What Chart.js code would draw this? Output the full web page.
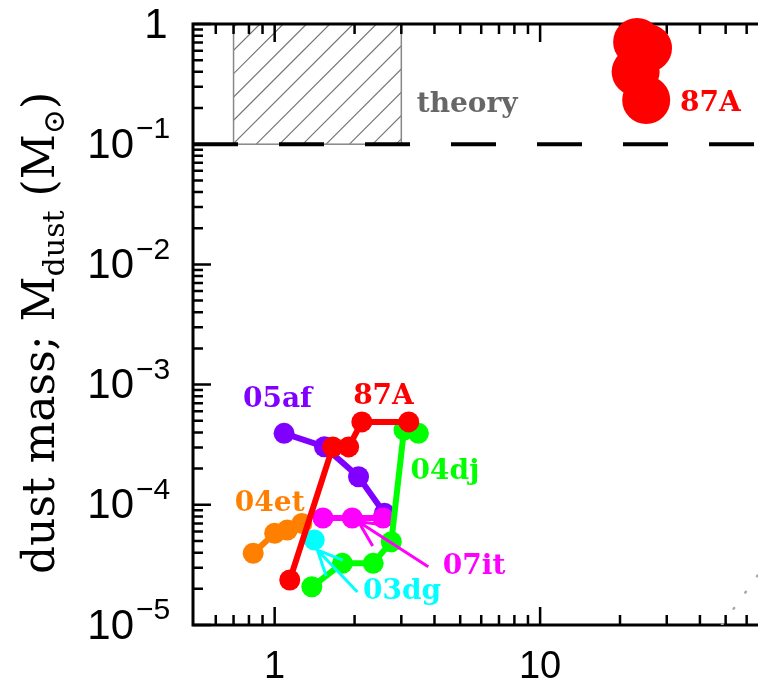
<!DOCTYPE html>
<html lang="en">
<head>
<meta charset="UTF-8">
<title>Dust mass of supernovae</title>
<script src="https://cdn.jsdelivr.net/npm/chart.js"></script>
<style>
  html, body { margin: 0; padding: 0; background: #fff; overflow: hidden; }
</style>
</head>
<body>
<canvas id="dustChart" width="782" height="678"></canvas>
<script>
// axis ranges
const xMin = 0.4924, xMax = 66.2;
const yMin = 1e-5, yMax = 1;
const xTickLabels = [1, 10];
const yTickValues = [1, 0.1, 0.01, 0.001, 1e-4, 1e-5];
const yTickExps   = ['', '\u22121', '\u22122', '\u22123', '\u22124', '\u22125'];

// dust mass measurements (x, Mdust in Msun)
const sn87aX  = [1.14, 1.655, 1.90, 2.13, 3.20];
const sn87aY  = [2.37e-5, 3.03e-4, 3.03e-4, 4.89e-4, 4.89e-4];
const sn87aLateX = [23.2, 25.5, 22.9, 25.1];
const sn87aLateY = [0.708, 0.63, 0.40, 0.233];
const sn05afX = [1.085, 1.54, 2.07, 2.59];
const sn05afY = [3.93e-4, 3.04e-4, 1.71e-4, 8.5e-5];
const sn04djX = [1.38, 1.80, 2.35, 2.75, 3.07, 3.48];
const sn04djY = [2.08e-5, 3.26e-5, 3.26e-5, 4.93e-5, 4.19e-4, 3.93e-4];
const sn04etX = [0.83, 1.0, 1.116, 1.266];
const sn04etY = [3.95e-5, 5.8e-5, 6.17e-5, 7.0e-5];
const sn07itX = [1.52, 1.96, 2.56];
const sn07itY = [7.76e-5, 7.76e-5, 7.76e-5];
const sn03dgX = [1.41];
const sn03dgY = [5.1e-5];

// pointer arrows: tail, tip, barb, tip, barb
const arrow07itX = [3.79, 2.07, 2.62, 2.07, 2.34];
const arrow07itY = [3.05e-5, 7.23e-5, 6.8e-5, 7.23e-5, 4.54e-5];
const arrow03dgX = [2.05, 1.449, 1.805, 1.449, 1.563];
const arrow03dgY = [1.88e-5, 4.2e-5, 3.47e-5, 4.2e-5, 2.56e-5];

// faint model curve entering at lower right
const modelX = [48.4, 82.4];
const modelY = [1e-5, 5.1e-5];

// theoretical prediction: box and lower limit
const theoryBoxX = [0.7, 3.0];
const theoryBoxY = [0.1, 1];
const theoryLimit = 0.1;

// text labels
const labelText  = ['05af', '87A', '04dj', '04et', '07it', '03dg', 'theory', '87A'];
const labelX     = [1.025, 2.57, 4.38, 0.958, 5.64, 3.02, 5.31, 43.8];
const labelY     = [7.45e-4, 7.88e-4, 1.87e-4, 1.03e-4, 3.04e-5, 1.88e-5, 0.212, 0.216];
const labelColor = ['#8000ff', '#ff0000', '#00ff00', '#ff8000', '#ff00ff', '#00ffff', '#666666', '#ff0000'];

function pts(xs, ys) { return xs.map((x, i) => ({ x: x, y: ys[i] })); }

function series(xs, ys, color, order) {
    return {
        data: pts(xs, ys), showLine: true, order: order,
        borderColor: color, backgroundColor: color, borderWidth: 6,
        pointRadius: 10.5, pointBorderWidth: 0, pointBackgroundColor: color
    };
}

function arrow(xs, ys, color, order) {
    return {
        data: pts(xs, ys), showLine: true, order: order,
        borderColor: color, borderWidth: 3, pointRadius: 0,
        borderJoinStyle: 'miter', borderCapStyle: 'butt'
    };
}

// axes frame, inward ticks and theory box drawn under the data
const frame = {
    id: 'frame',
    beforeDatasetsDraw(chart) {
        const ctx = chart.ctx, a = chart.chartArea;
        const xs = chart.scales.x, ys = chart.scales.y;
        ctx.save();

        // hatched theory region
        const bx0 = xs.getPixelForValue(theoryBoxX[0]), bx1 = xs.getPixelForValue(theoryBoxX[1]);
        const by0 = ys.getPixelForValue(theoryBoxY[1]), by1 = ys.getPixelForValue(theoryBoxY[0]);
        ctx.save();
        ctx.beginPath();
        ctx.rect(bx0, by0, bx1 - bx0, by1 - by0);
        ctx.clip();
        ctx.strokeStyle = '#777';
        ctx.lineWidth = 1.2;
        ctx.beginPath();
        for (let c = bx0 + by1 - 200 + 13; c < bx1 + by1 + 10; c += 23.3) {
            ctx.moveTo(c - by1, by1);
            ctx.lineTo(c - by0, by0);
        }
        ctx.stroke();
        ctx.restore();
        ctx.strokeStyle = '#888';
        ctx.lineWidth = 1.5;
        ctx.strokeRect(bx0, by0, bx1 - bx0, by1 - by0);

        // spines (no right-hand spine)
        ctx.strokeStyle = '#000';
        ctx.lineWidth = 3;
        ctx.beginPath();
        ctx.moveTo(a.right, a.top);
        ctx.lineTo(a.left, a.top);
        ctx.lineTo(a.left, a.bottom);
        ctx.lineTo(a.right, a.bottom);
        ctx.stroke();

        ctx.lineWidth = 2.5;
        ctx.beginPath();
        for (const d of [0.1, 1, 10]) {
            for (let m = 1; m <= 9; m++) {
                const v = m * d;
                const px = xs.getPixelForValue(v);
                if (px < a.left + 4 || px > a.right) continue;
                const len = m === 1 ? 18 : 10;
                ctx.moveTo(px, a.bottom); ctx.lineTo(px, a.bottom - len);
                ctx.moveTo(px, a.top); ctx.lineTo(px, a.top + len);
            }
        }
        for (let e = -5; e <= 0; e++) {
            for (let m = 1; m <= 9; m++) {
                const v = m * Math.pow(10, e);
                if (v > yMax * 1.0001) continue;
                const py = ys.getPixelForValue(v);
                const len = m === 1 ? 18 : 10;
                ctx.moveTo(a.left, py); ctx.lineTo(a.left + len, py);
            }
        }
        ctx.stroke();
        ctx.restore();
    },
    afterDraw(chart) {
        const ctx = chart.ctx;
        const xs = chart.scales.x, ys = chart.scales.y;
        ctx.save();

        // y tick labels with exponents
        ctx.fillStyle = '#000';
        ctx.textBaseline = 'middle';
        yTickValues.forEach((v, i) => {
            const py = ys.getPixelForValue(v);
            if (yTickExps[i] === '') {
                ctx.font = '42px "Liberation Sans"';
                ctx.textAlign = 'center';
                ctx.fillText('1', 156, py + 2);
            } else {
                ctx.font = '42px "Liberation Sans"';
                ctx.textAlign = 'right';
                ctx.fillText('10', 134, py + 2);
                ctx.font = '30px "Liberation Sans"';
                ctx.textAlign = 'left';
                ctx.fillText(yTickExps[i], 136, py - 14);
            }
        });

        // rotated y title with subscripts
        const parts = [
            { t: 'dust mass; M', s: 44, dy: 0 },
            { t: 'dust', s: 30, dy: 10 },
            { t: ' (M', s: 44, dy: 0 },
            { t: '\u2299', s: 30, dy: 10 },
            { t: ')', s: 44, dy: 0 }
        ];
        ctx.translate(54, 333);
        ctx.rotate(-Math.PI / 2);
        ctx.textAlign = 'left';
        ctx.textBaseline = 'alphabetic';
        let total = 0;
        parts.forEach(p => {
            ctx.font = p.s + 'px "DejaVu Serif"';
            p.w = ctx.measureText(p.t).width;
            total += p.w;
        });
        let cx = -total / 2;
        parts.forEach(p => {
            ctx.font = p.s + 'px "DejaVu Serif"';
            ctx.fillText(p.t, cx, p.dy);
            cx += p.w;
        });
        ctx.restore();

        // series labels
        ctx.save();
        ctx.font = 'bold 28px "DejaVu Serif"';
        ctx.textAlign = 'center';
        ctx.textBaseline = 'middle';
        labelText.forEach((t, i) => {
            ctx.fillStyle = labelColor[i];
            ctx.fillText(t, xs.getPixelForValue(labelX[i]), ys.getPixelForValue(labelY[i]));
        });
        ctx.restore();
    }
};

const ctx = document.getElementById('dustChart').getContext('2d');
new Chart(ctx, {
    type: 'scatter',
    data: {
        datasets: [
            series(sn87aX, sn87aY, '#ff0000', 3),
            {
                data: pts(sn87aLateX, sn87aLateY), order: 2, clip: false,
                pointRadius: 24, pointBorderWidth: 0,
                pointBackgroundColor: '#ff0000', backgroundColor: '#ff0000'
            },
            arrow(arrow03dgX, arrow03dgY, '#00ffff', 4),
            arrow(arrow07itX, arrow07itY, '#ff00ff', 4),
            series(sn03dgX, sn03dgY, '#00ffff', 5),
            series(sn04djX, sn04djY, '#00ff00', 6),
            series(sn07itX, sn07itY, '#ff00ff', 7),
            series(sn05afX, sn05afY, '#8000ff', 8),
            series(sn04etX, sn04etY, '#ff8000', 9),
            {
                data: pts(modelX, modelY), showLine: true, order: 10,
                borderColor: '#aaaaaa', borderWidth: 2.5, borderDash: [1, 19],
                borderCapStyle: 'round', pointRadius: 0
            },
            {
                data: pts([xMin, xMax], [theoryLimit, theoryLimit]), showLine: true, order: 1,
                borderColor: '#000', borderWidth: 4, borderDash: [45, 41],
                borderCapStyle: 'butt', pointRadius: 0
            }
        ]
    },
    options: {
        responsive: false,
        animation: false,
        layout: { padding: { left: 0, right: 8, top: 24, bottom: 0 } },
        plugins: { legend: { display: false }, tooltip: { enabled: false } },
        scales: {
            x: {
                type: 'logarithmic', min: xMin, max: xMax,
                border: { display: false },
                grid: { display: false, drawTicks: false },
                afterBuildTicks: s => { s.ticks = xTickLabels.map(v => ({ value: v })); },
                afterFit: s => { s.height = 53; },
                ticks: {
                    callback: v => String(v),
                    font: { family: 'Liberation Sans', size: 38 },
                    color: '#000', padding: 20, maxRotation: 0, autoSkip: false
                }
            },
            y: {
                type: 'logarithmic', min: yMin, max: yMax,
                border: { display: false },
                grid: { display: false, drawTicks: false },
                ticks: { display: false },
                afterFit: s => { s.width = 193; }
            }
        }
    },
    plugins: [frame]
});
</script>
</body>
</html>
